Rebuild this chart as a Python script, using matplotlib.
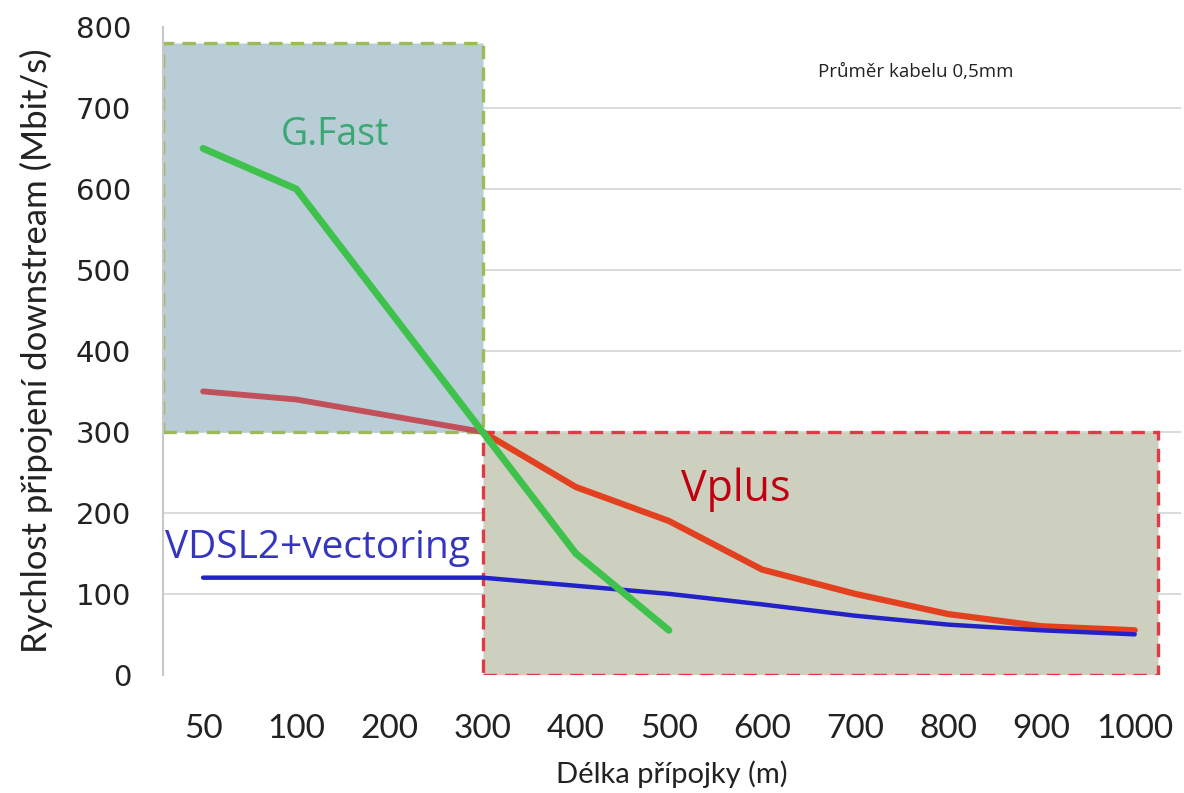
import matplotlib.pyplot as plt
from matplotlib.patches import Rectangle
import numpy as np

# cable length categories (m)
lengths = ["50", "100", "200", "300", "400", "500", "600", "700", "800", "900", "1000"]

# downstream speeds (Mbit/s)
gfast = [650, 600, 450, 300, 150, 55]           # 50 .. 500 m
vplus = [350, 340, 320, 300, 232, 190, 130, 100, 75, 60, 55]
vdsl2 = [120, 120, 120, 120, 110, 100, 87, 73, 62, 55, 50]

y_ticks = [0, 100, 200, 300, 400, 500, 600, 700, 800]

plt.rcParams["font.family"] = ["Lato", "DejaVu Sans"]

fig = plt.figure(figsize=(11.84, 7.93), dpi=100)
ax = fig.add_axes([0.1377, 0.149, 0.86, 0.817])

x = np.arange(len(lengths))
split = lengths.index("300")

ax.set_xlim(-0.43, 10.5)
ax.set_ylim(0, 800)

# G.Fast area (top-left) and Vplus area (bottom-right)
ax.add_patch(Rectangle((-0.43, 300), split + 0.43, 480, facecolor="#b8cdd6",
                       edgecolor="#9bbb59", linestyle=(0, (4, 2.5)), linewidth=2.4,
                       zorder=1))
ax.add_patch(Rectangle((split, 0), 7.25, 300, facecolor="#cdcfbf",
                       edgecolor="#e03a46", linestyle=(0, (4, 2.5)), linewidth=2.4,
                       zorder=1))

# lines
ax.plot(x[:split + 1], vplus[:split + 1], color="#c2505a", linewidth=4.2,
        solid_capstyle="round", zorder=3)
ax.plot(x[split:], vplus[split:], color="#e2401f", linewidth=4.5,
        solid_capstyle="round", zorder=3)
ax.plot(x, vdsl2, color="#2222c8", linewidth=3.2, solid_capstyle="round", zorder=4)
ax.plot(x[:len(gfast)], gfast, color="#3ec24c", linewidth=5,
        solid_capstyle="round", zorder=5)

# labels inside plot
txt_font = ["Open Sans", "DejaVu Sans"]
ax.text(1.41, 667, "G.Fast", color="#3aa872", fontsize=27, ha="center", va="center",
        family=txt_font, zorder=6)
ax.text(5.72, 228, "Vplus", color="#c00010", fontsize=31, ha="center", va="center",
        family=txt_font, zorder=6)
ax.text(-0.41, 157, "VDSL2+vectoring", color="#3535c0", fontsize=28, ha="left",
        va="center", family=txt_font, zorder=6)
ax.text(6.6, 744, "Průměr kabelu 0,5mm", color="#222222", fontsize=13.5,
        ha="left", va="center", family=txt_font, zorder=6)

# axes styling
ax.set_yticks(y_ticks)
ax.set_yticklabels([str(v) for v in y_ticks], fontsize=21,
                   family=["DejaVu Sans"], color="#222222")
ax.set_xticks(x)
ax.set_xticklabels(lengths, fontsize=24, color="#222222")
ax.tick_params(axis="both", length=0)
ax.tick_params(axis="y", pad=23)
ax.tick_params(axis="x", pad=28)

ax.grid(axis="y", color="#d4d4d4", linewidth=1.2, zorder=0)
ax.yaxis.get_gridlines()[0].set_visible(False)
ax.yaxis.get_gridlines()[-1].set_visible(False)
ax.set_axisbelow(True)

for side in ["top", "right", "bottom"]:
    ax.spines[side].set_visible(False)
ax.spines["left"].set_color("#c8c8c8")
ax.spines["left"].set_linewidth(1.5)

ax.set_ylabel("Rychlost připojení downstream (Mbit/s)", fontsize=25,
              color="#222222", labelpad=16)
ax.set_xlabel("Délka přípojky (m)", fontsize=21, color="#222222", labelpad=12)

fig.savefig("out.png", dpi=100)
